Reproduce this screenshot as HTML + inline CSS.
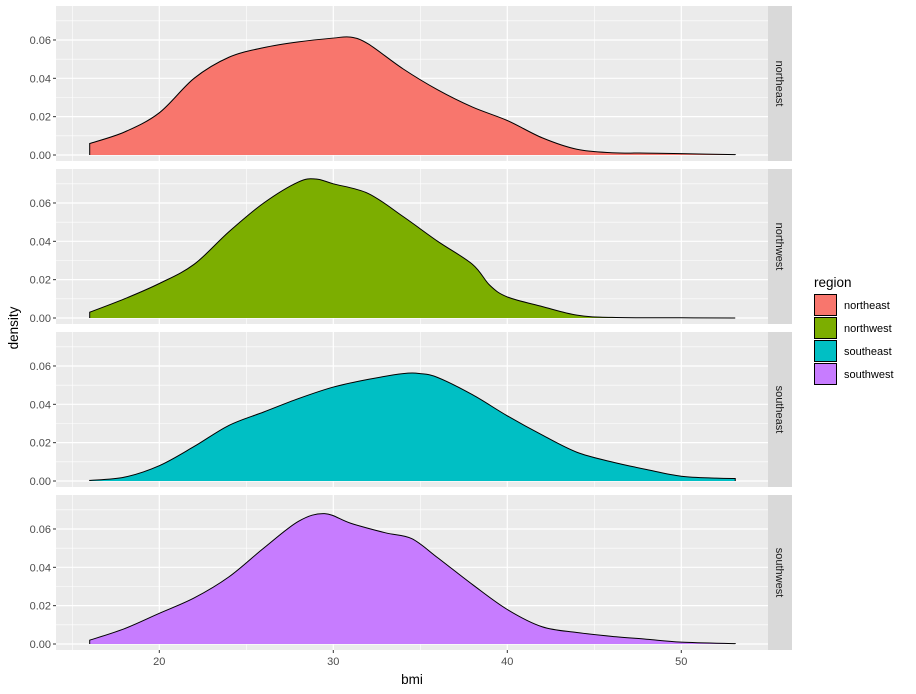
<!DOCTYPE html>
<html><head><meta charset="utf-8">
<style>
body{margin:0;background:#fff;}
svg{display:block;font-family:"Liberation Sans",Arial,sans-serif;}
</style></head>
<body>
<svg id="chart" width="916" height="694"></svg>
<script>
const regions=["northeast","northwest","southeast","southwest"];
const colors=["#F8766D","#7CAE00","#00BFC4","#C77CFF"];
const xNE=[16,18,20,22,24,26,28,30,31,32,34,36,38,40,42,44,46,48,50,53.1];
const yNE=[0.006,0.012,0.022,0.040,0.051,0.056,0.059,0.061,0.0615,0.058,0.045,0.034,0.025,0.018,0.009,0.003,0.0012,0.001,0.0007,0.0002];
const xNW=[16,18,20,22,24,26,28,29,30,32,34,36,38,39,40,42,44,46,50,53.1];
const yNW=[0.003,0.010,0.018,0.028,0.045,0.060,0.071,0.0725,0.070,0.065,0.053,0.040,0.028,0.017,0.011,0.006,0.0015,0.0003,0.0001,0];
const xSE=[16,18,20,22,24,26,28,30,32,34,35,36,38,40,42,44,46,48,50,52,53.1];
const ySE=[0.0003,0.002,0.008,0.018,0.029,0.036,0.043,0.049,0.053,0.056,0.056,0.054,0.045,0.034,0.024,0.015,0.010,0.006,0.0025,0.0015,0.0013];
const xSW=[16,18,20,22,24,26,28,29.5,31,33,34.5,36,38,40,42,44,46,48,50,53.1];
const ySW=[0.002,0.008,0.016,0.024,0.035,0.050,0.064,0.068,0.063,0.058,0.055,0.045,0.031,0.018,0.009,0.006,0.004,0.0025,0.001,0.0002];
const seriesX=[xNE,xNW,xSE,xSW];
const seriesY=[yNE,yNW,ySE,ySW];
const xTicks=[20,30,40,50];
const yTicks=[0,0.02,0.04,0.06];

const NS="http://www.w3.org/2000/svg";
const svg=document.getElementById('chart');
function mk(tag,attrs,parent){const e=document.createElementNS(NS,tag);for(const k in attrs)e.setAttribute(k,attrs[k]);(parent||svg).appendChild(e);return e;}
const PL=56,PR=768;
const xs=v=>159.3+(v-20)*17.4;
const panelTop=[6,169,332,495];
const PH=155;
function ys(i,v){return panelTop[i]+149-v*1917;}

regions.forEach((r,i)=>{
  const g=mk('g',{});
  
  
  const t=panelTop[i];
  mk('rect',{x:PL,y:t,width:PR-PL,height:PH,fill:'#EBEBEB'},g);
  // minor grid
  [15,25,35,45,55].forEach(v=>{const x=xs(v);if(x>PL&&x<PR)mk('line',{x1:x,x2:x,y1:t,y2:t+PH,stroke:'#fff','stroke-width':0.6},g);});
  [0.01,0.03,0.05,0.07].forEach(v=>mk('line',{x1:PL,x2:PR,y1:ys(i,v),y2:ys(i,v),stroke:'#fff','stroke-width':0.6},g));
  xTicks.forEach(v=>mk('line',{x1:xs(v),x2:xs(v),y1:t,y2:t+PH,stroke:'#fff','stroke-width':1.2},g));
  yTicks.forEach(v=>{
    mk('line',{x1:PL,x2:PR,y1:ys(i,v),y2:ys(i,v),stroke:'#fff','stroke-width':1.2},g);
    mk('line',{x1:PL-3,x2:PL,y1:ys(i,v),y2:ys(i,v),stroke:'#333','stroke-width':1},g);
    const tx=mk('text',{x:PL-5,y:ys(i,v)+4,'text-anchor':'end','font-size':11,fill:'#4D4D4D'},g);
    tx.textContent=v.toFixed(2);
  });
  // density
  const X=seriesX[i],Y=seriesY[i];
  const pts=X.map((x,k)=>[xs(x),ys(i,Y[k])]);
  let d='M'+pts[0][0]+','+pts[0][1];
  for(let k=0;k<pts.length-1;k++){
    const p0=pts[k-1]||pts[k],p1=pts[k],p2=pts[k+1],p3=pts[k+2]||p2;
    const c1=[p1[0]+(p2[0]-p0[0])/6,p1[1]+(p2[1]-p0[1])/6];
    const c2=[p2[0]-(p3[0]-p1[0])/6,p2[1]-(p3[1]-p1[1])/6];
    d+=' C'+c1+' '+c2+' '+p2;
  }
  const base=ys(i,0);
  const area=mk('path',{d:d+' L'+pts[pts.length-1][0]+','+base+' L'+pts[0][0]+','+base+' Z',fill:colors[i]},g);
  
  
  const line=mk('path',{d:'M'+pts[0][0]+','+base+' L'+pts[0][0]+','+pts[0][1]+d.slice(d.indexOf(' C'))+' L'+pts[pts.length-1][0]+','+base,fill:'none',stroke:'#000','stroke-width':1},g);
  
  
  // strip
  const s=mk('g',{},g);
  
  
  mk('rect',{x:768,y:t,width:24,height:PH,fill:'#D9D9D9'},s);
  const st=mk('text',{x:776,y:t+PH/2,'text-anchor':'middle','font-size':11,fill:'#1A1A1A',transform:'rotate(90 776 '+(t+PH/2)+')'},s);
  st.textContent=r;
});
// x axis
const xa=mk('g',{});


xTicks.forEach(v=>{
  mk('line',{x1:xs(v),x2:xs(v),y1:650,y2:653,stroke:'#333'},xa);
  const t=mk('text',{x:xs(v),y:665,'text-anchor':'middle','font-size':11,fill:'#4D4D4D'},xa);t.textContent=v;
});
const xt=mk('text',{x:412,y:684,'text-anchor':'middle','font-size':13.5,fill:'#000'});
xt.textContent='bmi';


const yt=mk('text',{x:18,y:328,'text-anchor':'middle','font-size':13.5,fill:'#000',transform:'rotate(-90 18 328)'});
yt.textContent='density';


// legend
const lg=mk('g',{});


const lt=mk('text',{x:814,y:287,'font-size':13.5,fill:'#000'},lg);lt.textContent='region';
regions.forEach((r,i)=>{
  const e=mk('g',{},lg);
  
  
  const y=294+i*23;
  mk('rect',{x:814.5,y:y+0.5,width:22,height:21,fill:colors[i],stroke:'#000','stroke-width':1},e);
  const t=mk('text',{x:844,y:y+15,'font-size':11,fill:'#000'},e);t.textContent=r;
});
</script>
</body></html>
